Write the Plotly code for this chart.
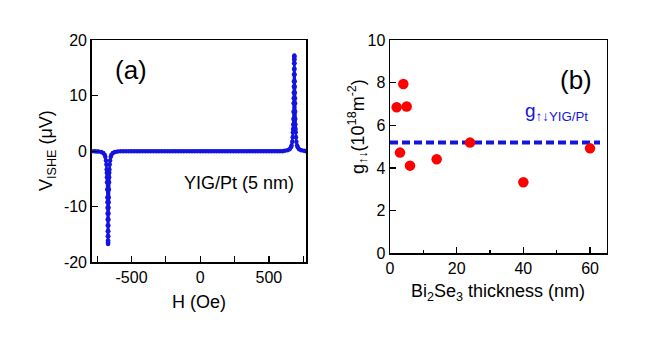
import plotly.graph_objects as go

# ---------------- data: panel (a) ----------------
H_dip = [-790, -770, -755, -741, -721, -706, -696, -691, -686, -683, -681, -680, -679, -678, -677,
         -676, -675.5, -675, -674.5, -674, -673.5, -673, -672.5, -672, -671.5, -671,
         -670.5, -670, -669.5, -669, -668.5, -668, -667.5, -667, -666.5,
         -666, -665, -664, -663, -662, -661, -659, -656, -651, -646, -636, -621, -601]
V_dip = [0, 0, -0.05, -0.08, -0.17, -0.33, -0.65, -1.0, -1.7, -2.4, -3.3, -3.9, -4.7, -5.6, -6.9,
         -8.35, -9.2, -10.2, -11.2, -12.3, -13.4, -14.4, -15.3, -16.1, -16.5, -16.7,
         -16.5, -16.1, -15.3, -14.4, -13.4, -12.3, -11.2, -10.2, -9.2,
         -8.35, -6.9, -5.6, -4.7, -3.9, -3.3, -2.4, -1.7, -1.0, -0.65, -0.33, -0.17, -0.08]

H_base = [-580, -560, -540, -520, -500, -480, -460, -440, -420, -400, -380, -360, -340, -320, -300,
          -280, -260, -240, -220, -200, -180, -160, -140, -120, -100, -80, -60, -40, -20, 0,
          20, 40, 60, 80, 100, 120, 140, 160, 180, 200, 220, 240, 260, 280, 300, 320, 340, 360,
          380, 400, 420, 440, 460, 480, 500, 520, 540, 560, 580, 600]
V_base = [0, 0, 0, 0, 0, 0, 0, 0, 0, 0, 0, 0, 0, 0, 0,
          0, 0, 0, 0, 0, 0, 0, 0, 0, 0, 0, 0, 0, 0, 0,
          0, 0, 0, 0, 0, 0, 0, 0, 0, 0, 0, 0, 0, 0, 0, 0, 0, 0,
          0, 0, 0, 0, 0, 0, 0, 0, 0, 0, 0, 0]

H_peak = [615, 635, 650, 660, 665, 670, 673, 675, 676, 677,
          678, 679, 680, 680.5, 681, 681.5, 682, 682.5, 683, 683.5,
          684, 684.5, 685, 685.5, 686, 686.5, 687, 687.5, 688, 688.5,
          689, 689.5, 690, 691, 692, 693, 694, 695, 697, 700,
          705, 710, 720, 735, 755, 770]
V_peak = [0.08, 0.18, 0.35, 0.68, 1.0, 1.7, 2.5, 3.4, 4.0, 4.8,
          5.8, 7.1, 8.6, 9.5, 10.5, 11.6, 12.6, 13.8, 14.8, 15.8,
          16.5, 17.0, 17.2, 17.0, 16.5, 15.8, 14.8, 13.8, 12.6, 11.6,
          10.5, 9.5, 8.6, 7.1, 5.8, 4.8, 4.0, 3.4, 2.5, 1.7,
          1.0, 0.68, 0.35, 0.18, 0.05, 0]

H_field = H_dip + H_base + H_peak
V_ishe = V_dip + V_base + V_peak

# ---------------- data: panel (b) ----------------
thickness = [2, 3, 4, 5, 6, 14, 24, 40, 60]
g_mix = [6.85, 4.72, 7.94, 6.88, 4.11, 4.41, 5.19, 3.33, 4.92]
g_yigpt = 5.2
ref_line_x = [0, 63]

# tick labels
a_xticks = [-500, 0, 500]
a_xlabels = ["-500", "0", "500"]
a_xminor = [-750, -250, 250, 750]
a_yticks = [-20, -10, 0, 10, 20]
a_ylabels = ["-20", "-10", "0", "10", "20"]
b_xticks = [0, 20, 40, 60]
b_xminor = [10, 30, 50]
b_yticks = [0, 2, 4, 6, 8, 10]

FONT = "Arial, Liberation Sans, sans-serif"
W, H = 655, 337

fig = go.Figure()

fig.add_trace(go.Scatter(
    x=H_field, y=V_ishe, mode="lines+markers",
    line=dict(color="#1414e0", width=2.5),
    marker=dict(color="#1414e0", size=4.5),
    xaxis="x", yaxis="y", showlegend=False))

fig.add_trace(go.Scatter(
    x=ref_line_x, y=[g_yigpt, g_yigpt], mode="lines",
    line=dict(color="#1414e0", width=4, dash="8px,4px"),
    xaxis="x2", yaxis="y2", showlegend=False))

fig.add_trace(go.Scatter(
    x=thickness, y=g_mix, mode="markers",
    marker=dict(color="#ff0000", size=10.5),
    xaxis="x2", yaxis="y2", showlegend=False, cliponaxis=False))

axis_common = dict(showline=True, linecolor="black", linewidth=1.5, mirror=True,
                   ticks="inside", tickcolor="black", tickwidth=1.2, ticklen=6,
                   showgrid=False, zeroline=False,
                   tickfont=dict(family=FONT, size=16, color="black"))

fig.update_layout(
    width=W, height=H,
    margin=dict(l=0, r=0, t=0, b=0, autoexpand=False),
    paper_bgcolor="white", plot_bgcolor="white",
    font=dict(family=FONT, color="black"),
    hovermode=False,
    xaxis=dict(domain=[91.7 / W, 306 / W], range=[-790, 770],
               tickmode="array", tickvals=a_xticks, ticktext=a_xlabels,
               minor=dict(tickvals=a_xminor, ticks="inside", ticklen=6,
                          tickwidth=1.2, tickcolor="black", showgrid=False),
               anchor="y", **axis_common),
    yaxis=dict(domain=[1 - 262.3 / H, 1 - 40 / H], range=[-20, 20],
               tickmode="array", tickvals=a_yticks, ticktext=a_ylabels,
               anchor="x", **axis_common),
    xaxis2=dict(domain=[390 / W, 606.7 / W], range=[0, 65],
                tickmode="array", tickvals=b_xticks,
                minor=dict(tickvals=b_xminor, ticks="inside", ticklen=3.5,
                           tickwidth=1.2, tickcolor="black", showgrid=False),
                anchor="y2", **axis_common),
    yaxis2=dict(domain=[1 - 253.3 / H, 1 - 40 / H], range=[0, 10],
                tickmode="array", tickvals=b_yticks,
                anchor="x2", **axis_common),
)

ann = []
def px(xp, yp):
    return xp / W, 1 - yp / H

x0, y0 = px(131, 70)
ann.append(dict(x=x0, y=y0, text="(a)", font=dict(size=26)))
x0, y0 = px(239, 183)
ann.append(dict(x=x0, y=y0, text="YIG/Pt (5 nm)", font=dict(size=18)))
x0, y0 = px(576, 80)
ann.append(dict(x=x0, y=y0, text="(b)", font=dict(size=26)))
x0, y0 = px(523, 112)
ann.append(dict(x=x0, y=y0, text="g<sub>↑↓YIG/Pt</sub>", xanchor="left",
                font=dict(size=19, color="#1414e0")))
x0, y0 = px(199, 302)
ann.append(dict(x=x0, y=y0, text="H (Oe)", font=dict(size=18)))
x0, y0 = px(47, 151)
ann.append(dict(x=x0, y=y0, text="V<sub>ISHE</sub> (μV)", textangle=-90, font=dict(size=18)))
x0, y0 = px(498, 292)
ann.append(dict(x=x0, y=y0, text="Bi<sub>2</sub>Se<sub>3</sub> thickness (nm)", font=dict(size=18)))
x0, y0 = px(357, 127)
ann.append(dict(x=x0, y=y0, text="g<sub>↑↓</sub>(10<sup>18</sup>m<sup>-2</sup>)", textangle=-90,
                font=dict(size=18)))

for a in ann:
    a.setdefault("xanchor", "center")
    a.update(xref="paper", yref="paper", showarrow=False, yanchor="middle")
    a["font"].setdefault("color", "black")
    a["font"]["family"] = FONT
fig.update_layout(annotations=ann)

fig.write_html("out.html",
               config={"displayModeBar": False, "staticPlot": True},
               post_script="document.body.style.margin='0';document.body.style.overflow='hidden';")
